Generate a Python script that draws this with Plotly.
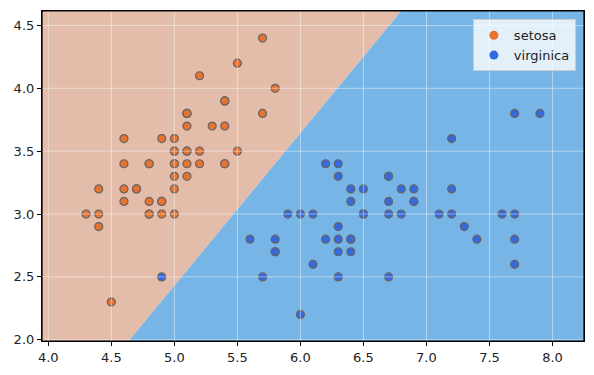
import numpy as np
import plotly.graph_objects as go

setosa_sepal_length = [5.1,4.9,4.7,4.6,5.0,5.4,4.6,5.0,4.4,4.9,5.4,4.8,4.8,4.3,5.8,5.7,5.4,5.1,5.7,5.1,
                       5.4,5.1,4.6,5.1,4.8,5.0,5.0,5.2,5.2,4.7,4.8,5.4,5.2,5.5,4.9,5.0,5.5,4.9,4.4,5.1,
                       5.0,4.5,4.4,5.0,5.1,4.8,5.1,4.6,5.3,5.0]
setosa_sepal_width = [3.5,3.0,3.2,3.1,3.6,3.9,3.4,3.4,2.9,3.1,3.7,3.4,3.0,3.0,4.0,4.4,3.9,3.5,3.8,3.8,
                      3.4,3.7,3.6,3.3,3.4,3.0,3.4,3.5,3.4,3.2,3.1,3.4,4.1,4.2,3.1,3.2,3.5,3.6,3.0,3.4,
                      3.5,2.3,3.2,3.5,3.8,3.0,3.8,3.2,3.7,3.3]
virginica_sepal_length = [6.3,5.8,7.1,6.3,6.5,7.6,4.9,7.3,6.7,7.2,6.5,6.4,6.8,5.7,5.8,6.4,6.5,7.7,7.7,6.0,
                          6.9,5.6,7.7,6.3,6.7,7.2,6.2,6.1,6.4,7.2,7.4,7.9,6.4,6.3,6.1,7.7,6.3,6.4,6.0,6.9,
                          6.7,6.9,5.8,6.8,6.7,6.7,6.3,6.5,6.2,5.9]
virginica_sepal_width = [3.3,2.7,3.0,2.9,3.0,3.0,2.5,2.9,2.5,3.6,3.2,2.7,3.0,2.5,2.8,3.2,3.0,3.8,2.6,2.2,
                         3.2,2.8,2.8,2.7,3.3,3.2,2.8,3.0,2.8,3.0,2.8,3.8,2.8,2.8,2.6,3.0,3.4,3.1,3.0,3.1,
                         3.1,3.1,2.7,3.2,3.3,3.0,2.5,3.0,3.4,3.0]
class_names = ["setosa", "virginica"]
x_ticks = [4.0, 4.5, 5.0, 5.5, 6.0, 6.5, 7.0, 7.5, 8.0]
y_ticks = [2.0, 2.5, 3.0, 3.5, 4.0, 4.5]

# linear classifier: virginica if w0*x + w1*y + b > 0
clf_w = [1.214, -1.0]
clf_b = -3.64

x_range = [3.95, 8.25]
y_range = [1.99, 4.615]


def decision(px, py):
    return clf_w[0] * px + clf_w[1] * py + clf_b


def clip_box(sign):
    """Part of the plotting box where sign*decision >= 0."""
    box = [(x_range[0], y_range[0]), (x_range[1], y_range[0]),
           (x_range[1], y_range[1]), (x_range[0], y_range[1])]
    out = []
    n = len(box)
    for i in range(n):
        p, q = box[i], box[(i + 1) % n]
        dp, dq = sign * decision(*p), sign * decision(*q)
        if dp >= 0:
            out.append(p)
        if (dp >= 0) != (dq >= 0):
            t = dp / (dp - dq)
            out.append((p[0] + t * (q[0] - p[0]), p[1] + t * (q[1] - p[1])))
    out.append(out[0])
    return [o[0] for o in out], [o[1] for o in out]


c_bg0 = "#E3BCAA"
c_bg1 = "#76B5E5"
c_pt0 = "#E8722E"
c_pt1 = "#3469E0"
c_grid = "rgba(255,255,255,0.45)"

fig = go.Figure()
for sign, col in [(-1, c_bg0), (1, c_bg1)]:
    px, py = clip_box(sign)
    fig.add_trace(go.Scatter(x=px, y=py, mode="lines", fill="toself", fillcolor=col,
                             line=dict(width=0, color=col), showlegend=False, hoverinfo="skip"))
for xs, ys, col in [(setosa_sepal_length, setosa_sepal_width, c_pt0),
                    (virginica_sepal_length, virginica_sepal_width, c_pt1)]:
    fig.add_trace(go.Scatter(x=xs, y=ys, mode="markers", showlegend=False,
                             marker=dict(color=col, size=8, line=dict(color="#666666", width=1.2))))
for name, col in zip(class_names, [c_pt0, c_pt1]):
    fig.add_trace(go.Scatter(x=[None], y=[None], mode="markers", name=name,
                             marker=dict(color=col, size=9)))

for xv in x_ticks:
    fig.add_shape(type="line", xref="x", yref="paper", x0=xv, x1=xv, y0=0, y1=1,
                  line=dict(color=c_grid, width=1), layer="above")
for yv in y_ticks:
    fig.add_shape(type="line", xref="paper", yref="y", x0=0, x1=1, y0=yv, y1=yv,
                  line=dict(color=c_grid, width=1), layer="above")
fig.add_shape(type="rect", xref="paper", yref="paper", x0=0, y0=0, x1=1, y1=1,
              line=dict(color="black", width=1.2), layer="above")

axis_common = dict(showgrid=False, zeroline=False, showline=True, linecolor="black",
                   linewidth=1.2, mirror=True,
                   ticks="outside", ticklen=4, tickwidth=1, tickcolor="black", layer="above traces",
                   tickfont=dict(family="DejaVu Sans", size=13, color="#222"))
fig.update_xaxes(range=x_range, tickvals=x_ticks, ticktext=["%.1f" % v for v in x_ticks], **axis_common)
fig.update_yaxes(range=y_range, tickvals=y_ticks, ticktext=["%.1f" % v for v in y_ticks], **axis_common)
fig.update_layout(width=586, height=367, margin=dict(l=34, r=10, t=3, b=34),
                  plot_bgcolor="white", paper_bgcolor="white",
                  legend=dict(x=0.985, y=0.975, xanchor="right", yanchor="top",
                              bgcolor="rgba(255,255,255,0.8)", bordercolor="#cccccc", borderwidth=1,
                              font=dict(family="DejaVu Sans", size=13, color="#222"),
                              itemwidth=30, tracegroupgap=0))
fig.write_html("out.html")
